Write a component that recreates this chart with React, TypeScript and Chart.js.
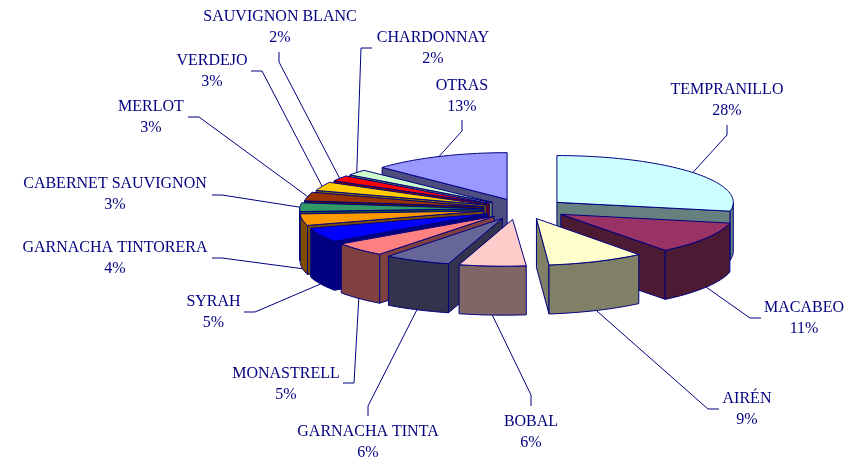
import React, { useEffect, useRef } from "react";
import { Chart, registerables } from "chart.js";

Chart.register(...registerables);

const categories = ["TEMPRANILLO", "MACABEO", "AIRÉN", "BOBAL", "GARNACHA TINTA", "MONASTRELL", "SYRAH", "GARNACHA TINTORERA", "CABERNET SAUVIGNON", "MERLOT", "VERDEJO", "SAUVIGNON BLANC", "CHARDONNAY", "OTRAS"];
const shares = [28, 11, 9, 6, 6, 5, 5, 4, 3, 3, 3, 2, 2, 13];
const topColors = ["#CCFFFF", "#993366", "#FFFFCC", "#FFCCCC", "#666699", "#FF8080", "#0000FF", "#FF9900", "#339966", "#993300", "#FFCC00", "#FF0000", "#CCFFCC", "#9999FF"];
const wallColors = ["#668080", "#4D1A33", "#808066", "#806666", "#33334D", "#804040", "#000080", "#804D00", "#1A4D33", "#4D1A00", "#806600", "#800000", "#668066", "#4D4D80"];

// label centre [x, first-line y]
const labelAt = [[727, 90], [804, 308], [747, 399], [531, 422], [368, 432], [286, 374], [213.5, 302], [115, 248], [115, 184], [151, 106.5], [212, 61], [280, 16.5], [433, 38], [462, 86]];
// leader polyline from the slice rim out to the label
const leaderAt = [
  [[727, 135], [727, 125]],
  [[750, 318], [761, 318]],
  [[708, 409], [719, 409]],
  [[531, 395], [531, 406]],
  [[368, 406], [368, 416]],
  [[354, 383], [343, 383]],
  [[255, 312], [244, 312]],
  [[222, 258], [212, 258]],
  [[222, 195], [212, 195]],
  [[199, 117], [188, 117]],
  [[262, 71], [251, 71]],
  [[279, 62], [279, 52]],
  [[361, 48], [372, 48]],
  [[462, 131], [462, 120]],
];

const INK = "#000080";
const TILT = 0.26;
const DEPTH = 49;
const EXPLODE = 40;

const pie3d = {
  id: "pie3d",
  beforeDatasetsDraw(chart: any) {
    const ctx = chart.ctx as CanvasRenderingContext2D;
    const arcs = chart.getDatasetMeta(0).data as any[];
    const order = arcs.map((_, i) => i).sort((a, b) => {
      const m = (i: number) => Math.sin((arcs[i].startAngle + arcs[i].endAngle) / 2);
      return m(a) - m(b);
    });
    const geo = arcs.map((arc) => {
      const mid = (arc.startAngle + arc.endAngle) / 2;
      const c = Math.cos(mid);
      const s = Math.sin(mid);
      const front = Math.max(0, s);
      const apx = arc.x + EXPLODE * c + 4 * Math.max(0, c) - 8 * Math.pow(front, 8);
      const apy = arc.y + EXPLODE * TILT * s;
      const sx = c < 0 ? (1 - 0.02 * c) * (1 - 0.06 * Math.max(0, -s)) : 0.98 - 0.03 * front;
      const shear = -0.05 * Math.max(0, Math.min(1, 0.4 + s));
      const R = arc.outerRadius;
      const pt = (a: number): [number, number] => {
        const u = R * Math.cos(a);
        const v = R * Math.sin(a);
        return [apx + sx * u + shear * v, apy + TILT * v];
      };
      return { mid, apx, apy, sx, shear, R, pt };
    });
    const poly = (pts: number[][], fill?: string) => {
      ctx.beginPath();
      pts.forEach((p, i) => (i ? ctx.lineTo(p[0], p[1]) : ctx.moveTo(p[0], p[1])));
      ctx.closePath();
      if (fill) {
        ctx.fillStyle = fill;
        ctx.fill();
      }
      ctx.strokeStyle = INK;
      ctx.lineWidth = 1;
      ctx.stroke();
    };
    const samples = (a: number, b: number) => {
      const n = Math.max(2, Math.ceil((b - a) / 0.03));
      const list: number[] = [];
      for (let i = 0; i <= n; i++) list.push(a + ((b - a) * i) / n);
      return list;
    };
    for (const i of order) {
      const arc = arcs[i];
      const g = geo[i];
      const a = arc.startAngle;
      const b = arc.endAngle;
      const wall = wallColors[i];
      const face = (t: number) => {
        const p = g.pt(t);
        poly([[g.apx, g.apy], p, [p[0], p[1] + DEPTH], [g.apx, g.apy + DEPTH]], wall);
      };
      if (Math.cos(a) < 0) face(a);
      if (Math.cos(b) > 0) face(b);
      // outer rim: front half only
      const ranges: [number, number][] = [];
      for (let k = -2; k <= 2; k++) {
        const lo = Math.max(a, 2 * Math.PI * k);
        const hi = Math.min(b, 2 * Math.PI * k + Math.PI);
        if (hi > lo) ranges.push([lo, hi]);
      }
      for (const [lo, hi] of ranges) {
        const top = samples(lo, hi).map(g.pt);
        const bottom = top.map((p) => [p[0], p[1] + DEPTH]).reverse();
        poly([...top, ...bottom], wall);
      }
      ctx.save();
      ctx.transform(g.sx, 0, g.shear, TILT, g.apx - g.sx * arc.x - g.shear * arc.y, g.apy - TILT * arc.y);
      arc.draw(ctx);
      ctx.restore();
      poly([[g.apx, g.apy], ...samples(a, b).map(g.pt)]);
    }
    // leaders and labels
    ctx.strokeStyle = INK;
    ctx.lineWidth = 1;
    arcs.forEach((arc, i) => {
      const g = geo[i];
      const p = g.pt(g.mid);
      const y0 = Math.sin(g.mid) > 0 ? p[1] + DEPTH : p[1];
      ctx.beginPath();
      ctx.moveTo(p[0], y0);
      leaderAt[i].forEach((q) => ctx.lineTo(q[0], q[1]));
      ctx.stroke();
    });
    ctx.fillStyle = INK;
    ctx.font = '16px "Liberation Serif"';
    ctx.textAlign = "center";
    ctx.textBaseline = "middle";
    categories.forEach((name, i) => {
      ctx.fillText(name, labelAt[i][0], labelAt[i][1]);
      ctx.fillText(shares[i] + "%", labelAt[i][0], labelAt[i][1] + 21);
    });
    return false;
  },
};

export default function App() {
  const ref = useRef<HTMLCanvasElement>(null);
  useEffect(() => {
    const chart = new Chart(ref.current!, {
      type: "pie",
      data: {
        labels: categories,
        datasets: [{ data: shares, backgroundColor: topColors, borderWidth: 0, offset: 0, hoverOffset: 0 }],
      },
      options: {
        responsive: false,
        animation: false,
        radius: 180,
        rotation: 0,
        layout: { padding: { left: 185, bottom: 45 } },
        plugins: { legend: { display: false }, tooltip: { enabled: false } },
      },
      plugins: [pie3d],
    } as any);
    return () => chart.destroy();
  }, []);
  return (
    <canvas
      ref={ref}
      width={861}
      height={463}
      style={{ position: "fixed", left: 0, top: 0, display: "block", background: "#fff" }}
    />
  );
}
